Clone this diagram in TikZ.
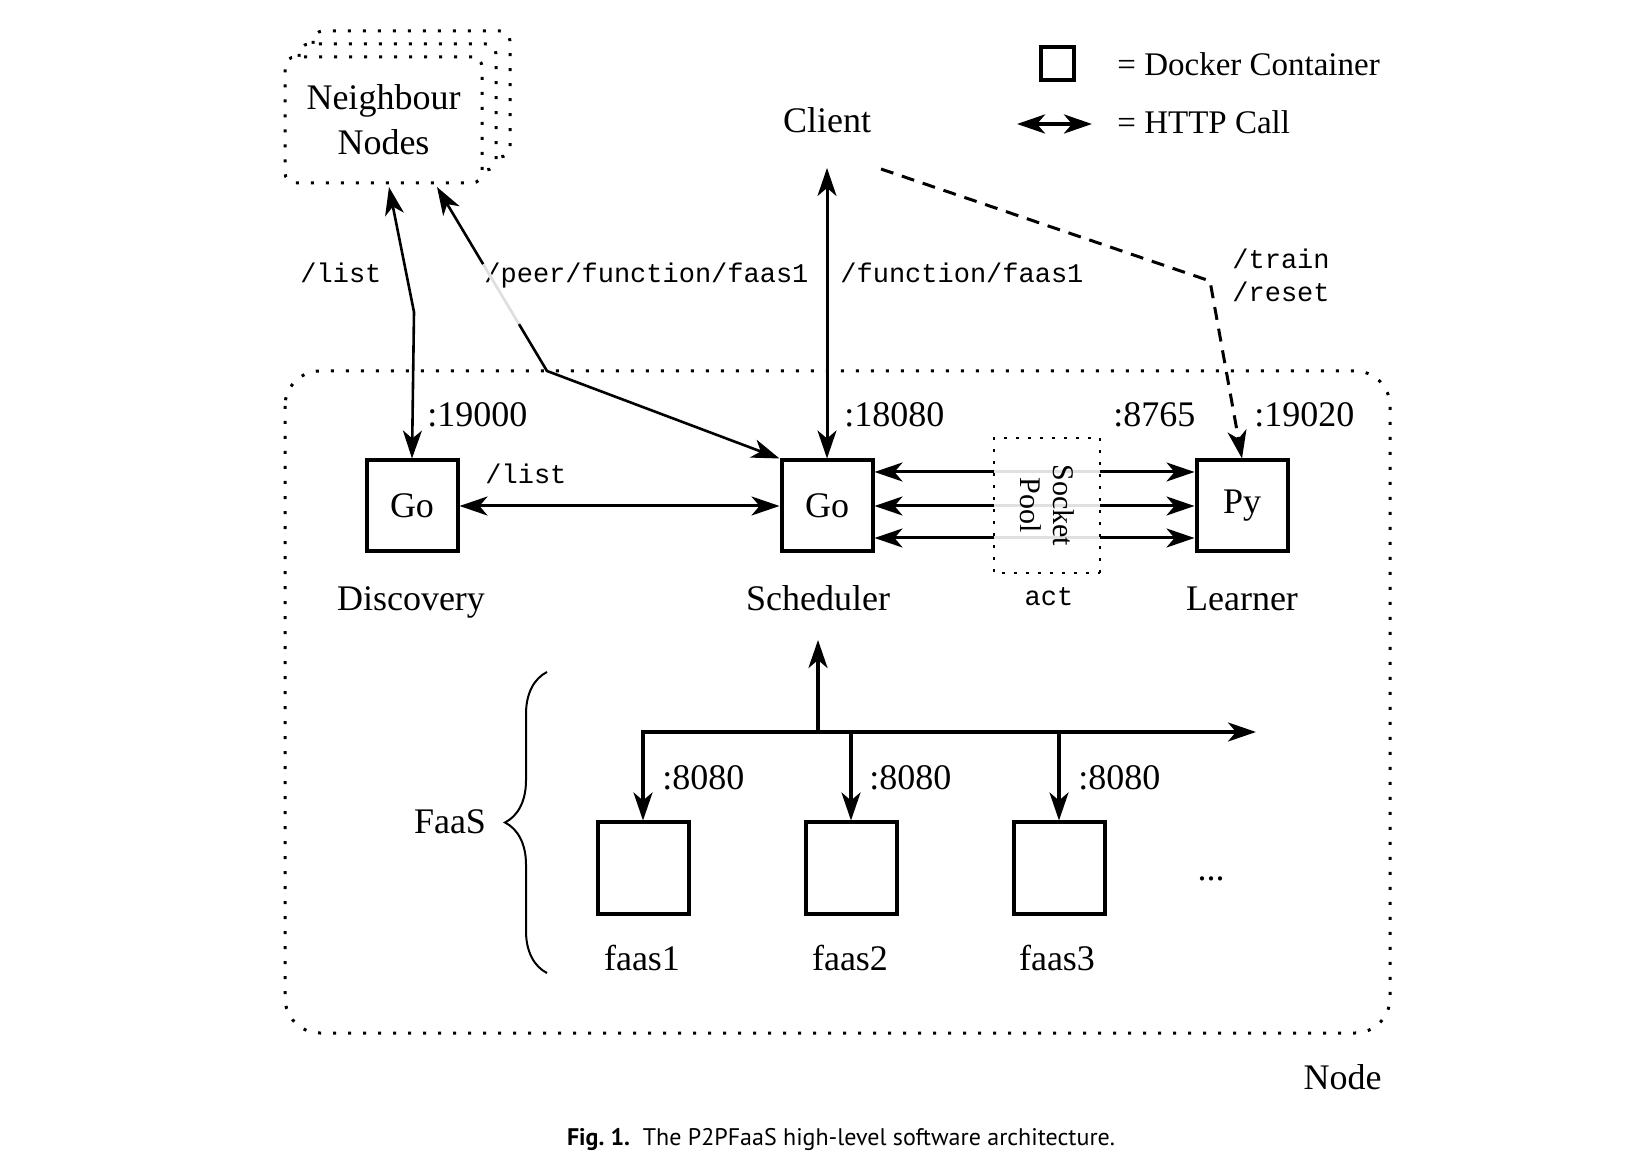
\documentclass[tikz,border=0pt]{standalone}
\usepackage{fontspec}
\setmainfont{Liberation Serif}
\setmonofont{Liberation Mono}
\newfontfamily\capfont{PT Sans}
\usetikzlibrary{arrows.meta,calc,decorations.pathreplacing}
\begin{document}
\begin{tikzpicture}[x=0.5bp,y=-0.5bp,
  >={Stealth[length=14bp,width=9.5bp,inset=4bp]},
  lbl/.style={font=\fontsize{18bp}{22.5bp}\selectfont, inner sep=0pt},
  leg/.style={font=\fontsize{16.5bp}{19bp}\selectfont, inner sep=0pt},
  mono/.style={font=\ttfamily\fontsize{13.5bp}{16bp}\selectfont, inner sep=0pt},
  cbox/.style={draw, line width=2bp, minimum width=45.5bp, minimum height=45.5bp, inner sep=0pt, font=\fontsize{18bp}{21bp}\selectfont},
  conn/.style={line width=1.5bp},
  thinconn/.style={line width=1.3bp},
  busline/.style={line width=1.8bp},
  dotline/.style={line width=1.5bp, dash pattern=on 1.5bp off 6bp},
  pooldot/.style={line width=1.3bp, dash pattern=on 1.3bp off 4.7bp},
  dashline/.style={line width=1.5bp, dash pattern=on 6.5bp off 4.5bp},
]
\useasboundingbox (0,0) rectangle (1650,1176);
% node outline
\draw[dotline, rounded corners=17.5bp] (285,371) rectangle (1390,1033);
% neighbour stack
\draw[dotline, rounded corners=5bp, fill=white] (313,31) rectangle (510,157);
\draw[dotline, rounded corners=5bp, fill=white] (299,44) rectangle (496,170);
\node[draw, dotline, fill=white, rounded corners=5bp, minimum width=98.5bp, minimum height=63bp, align=center, lbl] (nb) at (383.5,120) {Neighbour\\Nodes};
% legend
\node[draw, line width=2bp, minimum size=16.5bp, inner sep=0pt] (legbox) at (1057,64) {};
\node[leg, anchor=base west] (legdc) at (1117,76) {= Docker Container};
\coordinate (legl) at (1017,124);
\coordinate (legr) at (1092,124);
\draw[<->, line width=2bp] (legl) -- (legr);
\node[leg, anchor=base west] (leghttp) at (1117,134) {= HTTP Call};
% containers
\node[cbox] (disc) at (412,506) {Go};
\node[cbox] (sch) at (827,506) {Go};
\node[cbox] (lea) at (1242,506) {Py};
\node[lbl, anchor=base] (disclbl) at (411,611) {Discovery};
\node[lbl, anchor=base] (schlbl) at (818,611) {Scheduler};
\node[lbl, anchor=base] (lealbl) at (1242,611) {Learner};
\node[lbl, anchor=base] (client) at (827,133) {Client};
% ports
\node[lbl, anchor=base west] (p19000) at (427,427) {:19000};
\node[lbl, anchor=base west] (p18080) at (844,427) {:18080};
\node[lbl, anchor=base west] (p8765) at (1113,427) {:8765};
\node[lbl, anchor=base west] (p19020) at (1254,427) {:19020};
% mono labels
\node[mono, anchor=base west] (mlist1) at (300,283) {/list};
\node[mono, anchor=base west] (mpeer) at (484,283) {/peer/function/faas1};
\node[mono, anchor=base west] (mfunc) at (840,283) {/function/faas1};
\node[mono, anchor=base west] (mtrain) at (1232,269) {/train};
\node[mono, anchor=base west] (mreset) at (1232,302) {/reset};
\node[mono, anchor=base west] (mlist2) at (485,484) {/list};
\node[mono, anchor=base] (mact) at (1049,606) {act};
% connectors
\coordinate (nb1) at (389,187);
\coordinate (bend1) at (414,312);
\draw[<->, thinconn] (nb1) -- (bend1) -- (disc.north);
\coordinate (nb2) at (437,187);
\coordinate (bend2) at (547,371);
\draw[<->, thinconn] (nb2) -- (bend2) -- (sch.north west);
\draw[white, opacity=0.87, line width=2bp] ($(nb2)!0.42!(bend2)$) -- ($(nb2)!0.745!(bend2)$);
\coordinate (cl1) at (827,168);
\draw[<->, conn] (cl1) -- (sch.north);
\coordinate (cl2) at (881,169);
\coordinate (bend3) at (1210,281);
\draw[->, dashline] (cl2) -- (bend3) -- (lea.north);
\draw[<->, conn] (disc.east) -- (sch.west);
\foreach \s in {17bp,0bp,-16bp} \draw[<->, conn] ([yshift=\s]sch.east) -- ([yshift=\s]lea.west);
\node[draw, pooldot, fill=white, fill opacity=0.88, text opacity=1, rotate=-90, minimum width=67.5bp, minimum height=53bp, inner sep=0pt, align=center, font=\fontsize{15bp}{16.5bp}\selectfont] (pool) at (1047,505.5) {Socket\\Pool};
% FaaS
\node[cbox] (f1) at (643,868) {};
\node[cbox] (f2) at (851,868) {};
\node[cbox] (f3) at (1059,868) {};
\coordinate (busend) at (1256,732);
\coordinate (busup) at (818,732);
\coordinate (uptip) at (818,640);
\draw[<->, busline] (f1.north) |- (busend);
\draw[->, busline] (f2.north |- busend) -- (f2.north);
\draw[->, busline] (f3.north |- busend) -- (f3.north);
\draw[->, busline] (busup) -- (uptip);
\node[lbl, anchor=base west] (q1) at (662,789) {:8080};
\node[lbl, anchor=base west] (q2) at (869,789) {:8080};
\node[lbl, anchor=base west] (q3) at (1078,789) {:8080};
\node[lbl, anchor=base] (fl1) at (642,970) {faas1};
\node[lbl, anchor=base] (fl2) at (850,970) {faas2};
\node[lbl, anchor=base] (fl3) at (1057,970) {faas3};
\node[lbl, anchor=base] (more) at (1211,880) {...};
\node[lbl, anchor=base] (faas) at (450,833) {FaaS};
\draw[decorate, decoration={brace, amplitude=21bp}, line width=1bp] (547,973) -- (547,672);
\node[lbl, anchor=base east] (nodelbl) at (1382,1089) {Node};
\node[anchor=base, inner sep=0pt, font=\capfont\fontsize{12bp}{14bp}\selectfont] (cap) at (841,1145) {\textbf{Fig.~1.}\ \ The P2PFaaS high-level software architecture.};
\end{tikzpicture}
\end{document}
